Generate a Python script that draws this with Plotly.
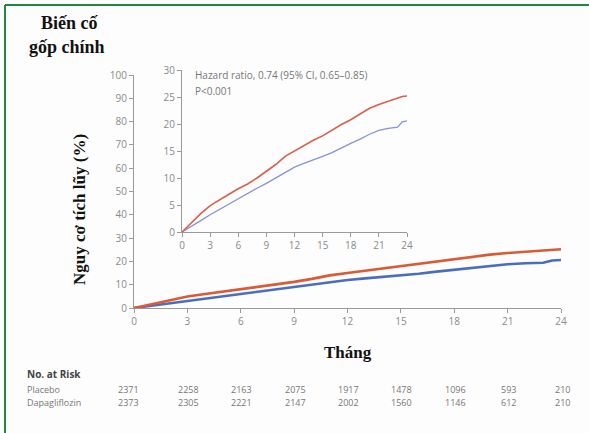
import plotly.graph_objects as go

# ---- data ----
months = [0, 1, 2, 3, 4, 5, 6, 7, 8, 9, 10, 11, 12, 13, 14, 15, 16, 17, 18, 19, 20, 21, 22, 23, 23.5, 24]
placebo = [0, 1.7, 3.4, 4.9, 6.0, 7.0, 8.0, 8.9, 10.0, 11.2, 12.5, 14.0, 15.0, 16.0, 17.0, 17.8,
           18.9, 19.9, 20.8, 21.8, 22.9, 23.6, 24.2, 24.9, 25.1, 25.2]
dapagliflozin = [0, 1.0, 2.1, 3.2, 4.2, 5.2, 6.2, 7.1, 8.1, 9.0, 10.0, 11.0, 12.0, 12.7, 13.3, 14.0,
                 14.7, 15.6, 16.4, 17.2, 18.1, 18.8, 19.2, 19.4, 20.4, 20.6]

x_ticks = [0, 3, 6, 9, 12, 15, 18, 21, 24]
main_y_ticks = [0, 10, 20, 30, 40, 50, 60, 70, 80, 90, 100]
inset_y_ticks = [0, 5, 10, 15, 20, 25, 30]

risk_placebo = [2371, 2258, 2163, 2075, 1917, 1478, 1096, 593, 210]
risk_dapa = [2373, 2305, 2221, 2147, 2002, 1560, 1146, 612, 210]

title_lines = ["Biến cố", "gốp chính"]
y_title = "Nguy cơ tích lũy (%)"
x_title = "Tháng"
hr_text = "Hazard ratio, 0.74 (95% CI, 0.65–0.85)"
p_text = "P<0.001"

RED = "#d95a35"
BLUE = "#4a6dbf"
RED_IN = "#d9604a"
BLUE_IN = "#8593d6"
GRAY = "#8a8a8a"
AX = "#9a9a9a"

W, H = 589, 433
def px(xp):
    return xp / W
def py(yp):
    return 1 - yp / H

fig = go.Figure()
fig.add_trace(go.Scatter(x=months, y=dapagliflozin, mode="lines", line=dict(color=BLUE, width=2.6),
                         xaxis="x", yaxis="y", showlegend=False, hoverinfo="skip"))
fig.add_trace(go.Scatter(x=months, y=placebo, mode="lines", line=dict(color=RED, width=2.6),
                         xaxis="x", yaxis="y", showlegend=False, hoverinfo="skip"))
fig.add_trace(go.Scatter(x=months, y=dapagliflozin, mode="lines", line=dict(color=BLUE_IN, width=1.3),
                         xaxis="x2", yaxis="y2", showlegend=False, hoverinfo="skip"))
fig.add_trace(go.Scatter(x=months, y=placebo, mode="lines", line=dict(color=RED_IN, width=1.6),
                         xaxis="x2", yaxis="y2", showlegend=False, hoverinfo="skip"))

tickfont = dict(family="Open Sans, Liberation Sans, sans-serif", size=10, color=GRAY)
common = dict(showgrid=False, zeroline=False, showline=True, linecolor=AX, linewidth=1.2,
              ticks="outside", ticklen=4, tickcolor=AX, tickwidth=1.2, tickfont=tickfont,
              automargin=False, fixedrange=True)

fig.update_layout(
    width=W, height=H,
    margin=dict(l=0, r=0, t=0, b=0),
    paper_bgcolor="#fdfdfd", plot_bgcolor="rgba(0,0,0,0)",
    xaxis=dict(domain=[px(134), px(561)], range=[0, 24], tickvals=x_ticks, anchor="y", **common),
    yaxis=dict(domain=[py(308), py(75)], range=[0, 100], tickvals=main_y_ticks, anchor="x", **common),
    xaxis2=dict(domain=[px(182), px(407)], range=[0, 24], tickvals=x_ticks, anchor="y2", **common),
    yaxis2=dict(domain=[py(232), py(70)], range=[0, 30], tickvals=inset_y_ticks, anchor="x2", **common),
)

ann = []
serif = "Liberation Serif, DejaVu Serif, serif"
ann.append(dict(text="<b>%s</b>" % title_lines[0], x=px(69), y=py(23), xref="paper", yref="paper",
                showarrow=False, font=dict(family=serif, size=18, color="#111"), xanchor="center", yanchor="middle"))
ann.append(dict(text="<b>%s</b>" % title_lines[1], x=px(67), y=py(47), xref="paper", yref="paper",
                showarrow=False, font=dict(family=serif, size=18, color="#111"), xanchor="center", yanchor="middle"))
ann.append(dict(text="<b>%s</b>" % y_title, x=px(79), y=py(210), xref="paper", yref="paper", textangle=-90,
                showarrow=False, font=dict(family=serif, size=17, color="#111"), xanchor="center", yanchor="middle"))
ann.append(dict(text="<b>%s</b>" % x_title, x=px(348), y=py(352), xref="paper", yref="paper",
                showarrow=False, font=dict(family=serif, size=17, color="#111"), xanchor="center", yanchor="middle"))
smallfont = dict(family="Open Sans, Liberation Sans, sans-serif", size=10, color="#777")
ann.append(dict(text=hr_text, x=px(193), y=py(75), xref="paper", yref="paper", showarrow=False,
                font=smallfont, xanchor="left", yanchor="middle"))
ann.append(dict(text=p_text, x=px(193), y=py(91), xref="paper", yref="paper", showarrow=False,
                font=smallfont, xanchor="left", yanchor="middle"))

riskfont = dict(family="Open Sans, Liberation Sans, sans-serif", size=9, color="#777")
ann.append(dict(text="<b>No. at Risk</b>", x=px(25), y=py(374), xref="paper", yref="paper", showarrow=False,
                font=dict(family="Open Sans, Liberation Sans, sans-serif", size=10, color="#444"),
                xanchor="left", yanchor="middle"))
ann.append(dict(text="Placebo", x=px(25), y=py(389), xref="paper", yref="paper", showarrow=False,
                font=riskfont, xanchor="left", yanchor="middle"))
ann.append(dict(text="Dapagliflozin", x=px(25), y=py(402), xref="paper", yref="paper", showarrow=False,
                font=riskfont, xanchor="left", yanchor="middle"))
for i, m in enumerate(x_ticks):
    shift = -6 if i == 0 else 1
    ann.append(dict(text=str(risk_placebo[i]), x=m, xref="x", y=py(389), yref="paper", xshift=shift,
                    showarrow=False, font=riskfont, xanchor="center", yanchor="middle"))
    ann.append(dict(text=str(risk_dapa[i]), x=m, xref="x", y=py(402), yref="paper", xshift=shift,
                    showarrow=False, font=riskfont, xanchor="center", yanchor="middle"))
fig.update_layout(annotations=ann)

GREEN = "#1e8a3c"
fig.update_layout(shapes=[
    dict(type="line", xref="paper", yref="paper", x0=px(5), x1=1.01, y0=py(5), y1=py(5),
         line=dict(color=GREEN, width=2)),
    dict(type="line", xref="paper", yref="paper", x0=px(5), x1=px(5), y0=py(5), y1=-0.01,
         line=dict(color=GREEN, width=2)),
])

fig.write_html("out.html", config={"displayModeBar": False},
               post_script="document.body.style.margin='0px';document.body.style.overflow='hidden';")
